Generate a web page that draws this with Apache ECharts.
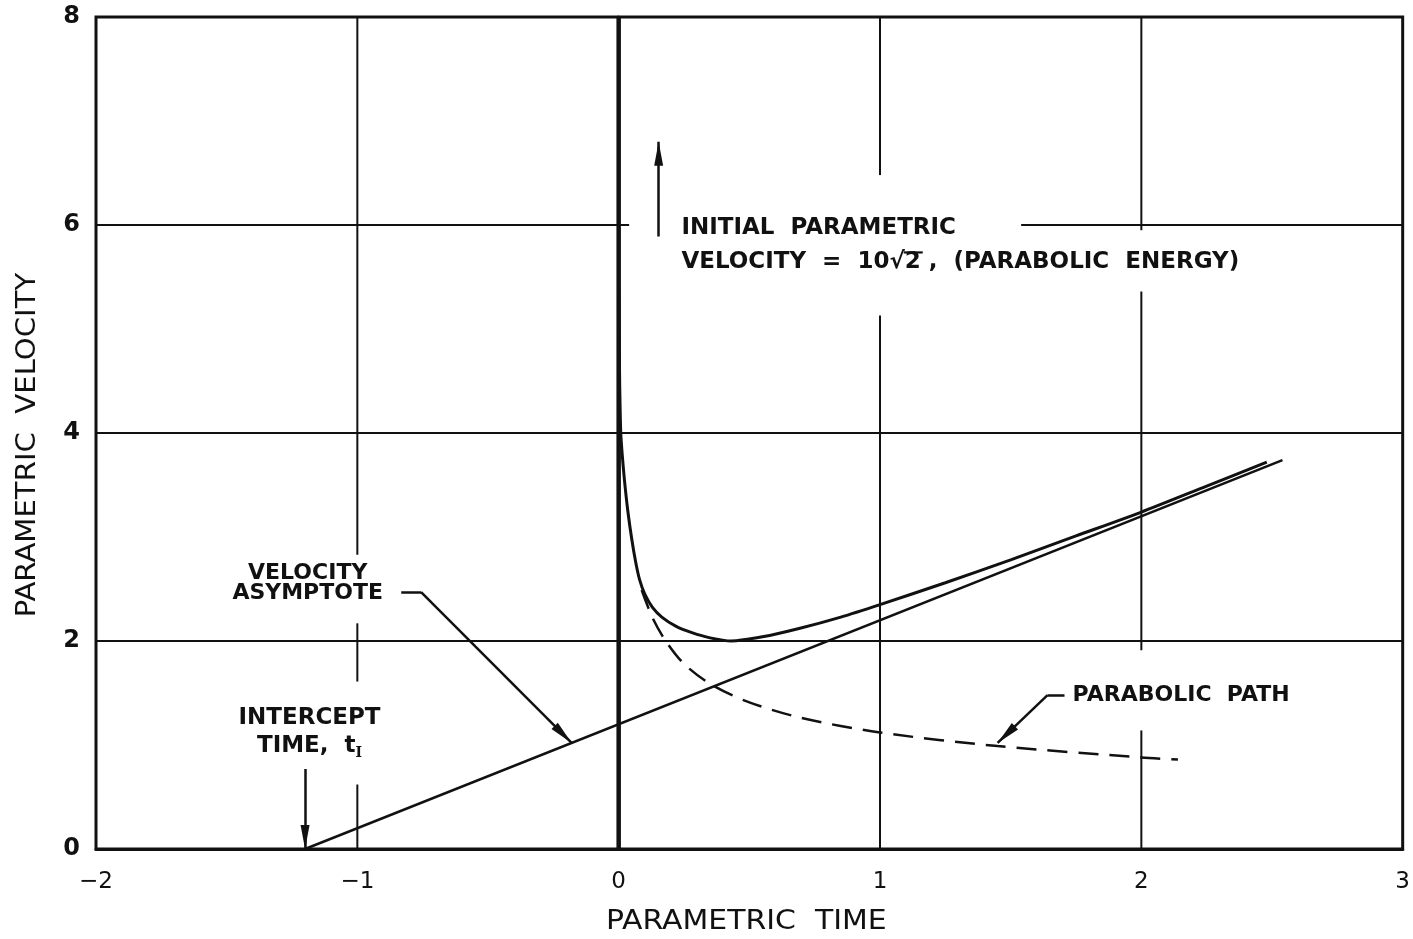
<!DOCTYPE html>
<html>
<head>
<meta charset="utf-8">
<script src="https://cdn.jsdelivr.net/npm/echarts@6/dist/echarts.min.js"></script>
<style>
  html, body { margin: 0; padding: 0; background: #fff; }
  #chart { width: 1413px; height: 939px; }
</style>
</head>
<body>
<div id="chart"></div>
<script>
// Axis ticks
const xTicks = [-2, -1, 0, 1, 2, 3];
const yTicks = [0, 2, 4, 6, 8];

// Velocity curve starting at t = 0 (parametric time, parametric velocity)
const velocityCurve = [
  [0.000, 5.40], [0.002, 4.90], [0.004, 4.45], [0.008, 4.00], [0.014, 3.78],
  [0.022, 3.55], [0.035, 3.25], [0.050, 2.98], [0.065, 2.76], [0.080, 2.59],
  [0.100, 2.45], [0.130, 2.32], [0.165, 2.23], [0.220, 2.14], [0.280, 2.08],
  [0.350, 2.03], [0.430, 2.00], [0.550, 2.04], [0.690, 2.12], [0.850, 2.23],
  [1.000, 2.35], [1.250, 2.56], [1.500, 2.78], [1.750, 3.01], [2.000, 3.24],
  [2.250, 3.49], [2.480, 3.72]
];

// Parabolic path (dashed)
const parabolicPath = [
  [0.088, 2.49], [0.130, 2.22], [0.180, 2.00], [0.250, 1.78], [0.355, 1.58],
  [0.500, 1.41], [0.700, 1.26], [1.000, 1.12], [1.450, 0.99], [2.000, 0.88],
  [2.140, 0.86]
];

// Velocity asymptote
const asymptote = [[-1.20, 0.00], [2.54, 3.74]];

// Grid lines, interrupted where lettering sits
const gridSegments = [
  [[-1, 8], [-1, 2.83]], [[-1, 2.17], [-1, 1.61]], [[-1, 0.62], [-1, 0]],
  [[1, 8], [1, 6.48]], [[1, 5.13], [1, 0]],
  [[2, 8], [2, 5.95]], [[2, 5.36], [2, 1.91]], [[2, 1.14], [2, 0]],
  [[-2, 6], [0.04, 6]], [[1.54, 6], [3, 6]],
  [[-2, 4], [3, 4]], [[-2, 2], [3, 2]]
];
const zeroTimeLine = [[0, 0], [0, 8]];

// Leader lines (bent part) and arrow shafts, in data coordinates
const leaderBends = [
  [[-0.832, 2.47], [-0.756, 2.47]],
  [[1.706, 1.48], [1.641, 1.48]]
];
const arrowShafts = [
  [[-0.756, 2.47], [-0.18, 1.02]],
  [[1.641, 1.48], [1.45, 1.02]],
  [[-1.2, 0.77], [-1.2, 0.0]],
  [[0.153, 5.89], [0.153, 6.80]]
];

const FONT = 'DejaVu Sans';
const INK = '#111';

const chart = echarts.init(document.getElementById('chart'), null, { renderer: 'canvas' });

const series = [];
gridSegments.forEach(seg => {
  series.push({
    type: 'line', data: seg, symbol: 'none', silent: true,
    lineStyle: { color: INK, width: 2 }, z: 1
  });
});
series.push({
  type: 'line', data: zeroTimeLine, symbol: 'none', silent: true,
  lineStyle: { color: INK, width: 4.5 }, z: 1
});
series.push({
  type: 'line', data: asymptote, symbol: 'none',
  lineStyle: { color: INK, width: 2.5 }, z: 3
});
series.push({
  type: 'line', data: velocityCurve, symbol: 'none', smooth: 0.25,
  lineStyle: { color: INK, width: 3 }, z: 3
});
series.push({
  type: 'line', data: parabolicPath, symbol: 'none', smooth: 0.3,
  lineStyle: { color: INK, width: 2.5, type: [20, 11] }, z: 3
});
series.push({
  type: 'lines', coordinateSystem: 'cartesian2d', silent: true,
  symbol: ['none', 'none'],
  lineStyle: { color: INK, width: 2.5, opacity: 1 },
  data: leaderBends.concat(arrowShafts).map(c => ({ coords: c })),
  z: 4
});

chart.setOption({
  animation: false,
  backgroundColor: '#fff',
  grid: {
    left: 96, right: 6, top: 17, bottom: 90,
    show: true, borderColor: INK, borderWidth: 3
  },
  xAxis: {
    type: 'value', min: xTicks[0], max: xTicks[xTicks.length - 1], interval: 1,
    axisLine: { show: true, lineStyle: { color: INK, width: 3 } },
    axisTick: { show: false },
    splitLine: { show: false },
    axisLabel: {
      color: INK, fontFamily: FONT, fontSize: 23, margin: 22,
      formatter: v => (v < 0 ? '\u2212' + Math.abs(v) : String(v))
    }
  },
  yAxis: {
    type: 'value', min: yTicks[0], max: yTicks[yTicks.length - 1], interval: 2,
    axisLine: { show: true, lineStyle: { color: INK, width: 3 } },
    axisTick: { show: false },
    splitLine: { show: false },
    axisLabel: { color: INK, fontFamily: FONT, fontSize: 24, fontWeight: 'bold', margin: 16 }
  },
  series: series
});

// Lettering anchored to data coordinates
function px(pt) { return chart.convertToPixel({ gridIndex: 0 }, pt); }
function label(pt, text, size, align, sx) {
  const p = px(pt);
  return {
    type: 'text', x: p[0], y: p[1], scaleX: sx || 1,
    style: { text: text, align: align, verticalAlign: 'middle', fill: INK,
             font: 'bold ' + size + 'px "DejaVu Sans"' }
  };
}

// Slim arrowhead whose tip lands on the shaft's end point
function arrowHead(shaft) {
  const a = px(shaft[0]), b = px(shaft[1]);
  const dx = b[0] - a[0], dy = b[1] - a[1];
  const len = Math.hypot(dx, dy);
  const ux = dx / len, uy = dy / len;
  const headLen = 24, halfW = 4.5;
  const bx = b[0] - ux * headLen, by = b[1] - uy * headLen;
  return {
    type: 'polygon', silent: true, z: 10,
    shape: { points: [[b[0], b[1]], [bx - uy * halfW, by + ux * halfW], [bx + uy * halfW, by - ux * halfW]] },
    style: { fill: INK }
  };
}

// Measure the line holding the radical so the vinculum sits over the "2"
const measureCtx = document.createElement('canvas').getContext('2d');
const topFont = 'bold 23px "DejaVu Sans"';
measureCtx.font = topFont;
const velPrefix = 'VELOCITY  =  10\u221A';
const velLine = velPrefix + '2 ,  (PARABOLIC  ENERGY)';
const prefixW = measureCtx.measureText(velPrefix).width;
const twoW = measureCtx.measureText('2').width;
const velAnchor = px([0.24, 5.64]);

const plotCenterX = px([0.5, 0])[0];
const plotCenterY = px([0, 4])[1];

chart.setOption({
  graphic: arrowShafts.map(arrowHead).concat([
    label([0.24, 5.97], 'INITIAL  PARAMETRIC', 23, 'left'),
    label([0.24, 5.64], velLine, 23, 'left'),
    {
      type: 'line',
      shape: {
        x1: velAnchor[0] + prefixW - 1, y1: velAnchor[1] - 10,
        x2: velAnchor[0] + prefixW + twoW + 2, y2: velAnchor[1] - 10
      },
      style: { stroke: INK, lineWidth: 2.2 }
    },
    label([-1.19, 2.65], 'VELOCITY', 22, 'center'),
    label([-1.19, 2.46], 'ASYMPTOTE', 22, 'center'),
    label([-1.183, 1.26], 'INTERCEPT', 23, 'center'),
    {
      type: 'text', x: px([-1.183, 0.99])[0], y: px([-1.183, 0.99])[1],
      style: {
        text: 'TIME,  t{s|I}', align: 'center', verticalAlign: 'middle',
        fill: INK, font: 'bold 23px "DejaVu Sans"',
        rich: { s: { fontFamily: 'DejaVu Serif', fontWeight: 'bold', fontSize: 14, padding: [14, 0, 0, 0], fill: INK } }
      }
    },
    label([1.737, 1.48], 'PARABOLIC  PATH', 22, 'left'),
    // axis titles
    {
      type: 'text', x: plotCenterX - 3, y: 922, scaleX: 1.15,
      style: { text: 'PARAMETRIC  TIME', align: 'center', verticalAlign: 'middle',
               fill: INK, font: '500 26px "DejaVu Sans"' }
    },
    {
      type: 'text', x: 28, y: plotCenterY + 12, rotation: Math.PI / 2, scaleX: 1.12,
      style: { text: 'PARAMETRIC  VELOCITY', align: 'center', verticalAlign: 'middle',
               fill: INK, font: '500 26px "DejaVu Sans"' }
    }
  ])
});
</script>
</body>
</html>
